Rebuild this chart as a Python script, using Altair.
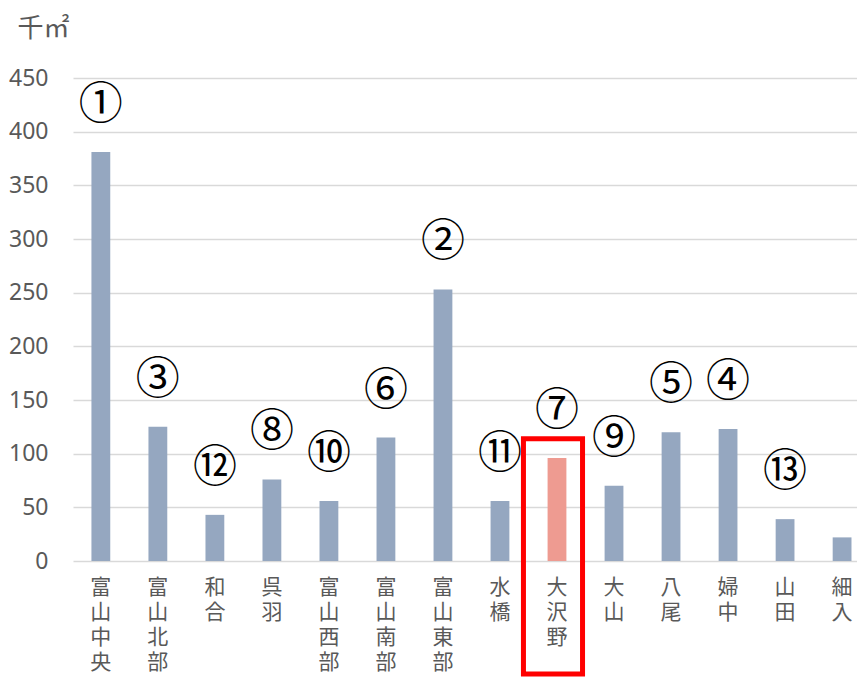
import altair as alt
import pandas as pd

categories = ["富山中央", "富山北部", "和合", "呉羽", "富山西部", "富山南部", "富山東部",
              "水橋", "大沢野", "大山", "八尾", "婦中", "山田", "細入"]
values = [381, 125, 43, 76, 56, 115, 253, 56, 96, 70, 120, 123, 39, 22]
ranks = ["①", "③", "⑫", "⑧", "⑩", "⑥", "②", "⑪", "⑦", "⑨", "⑤", "④", "⑬", ""]
highlight = "大沢野"
y_ticks = [0, 50, 100, 150, 200, 250, 300, 350, 400, 450]

df = pd.DataFrame({
    "area": categories,
    "value": values,
    "rank": ranks,
    "hl": [c == highlight for c in categories],
})

x = alt.X(
    "area:N", sort=categories,
    scale=alt.Scale(paddingInner=0.67, paddingOuter=0.21, align=0.77),
    axis=alt.Axis(title=None, labelAngle=0, labelExpr="split(datum.label, '')",
                  labelFont="Noto Sans CJK JP", labelFontSize=21, labelLineHeight=25,
                  labelColor="#595959", labelBaseline="top", labelPadding=15,
                  ticks=False, domain=False),
)
y = alt.Y(
    "value:Q", scale=alt.Scale(domain=[0, 450]),
    axis=alt.Axis(values=y_ticks, title="千㎡", titleAngle=0, titleAlign="left",
                  titleBaseline="middle", titleX=-56, titleY=-50, titleFontSize=26,
                  titleFont="Noto Sans CJK JP", titleFontWeight="normal", titleColor="#595959",
                  labelFont="Noto Sans", labelFontSize=23, labelColor="#595959",
                  labelPadding=25, ticks=False, domain=False, grid=True,
                  gridColor="#D9D9D9", gridWidth=1.5),
)

base = alt.Chart(df)

bars = base.mark_bar().encode(
    x=x, y=y,
    color=alt.condition("datum.hl", alt.value("#EE9B91"), alt.value("#95A7C0")),
)

labels = base.mark_text(dy=-46, fontSize=44, font="Noto Sans CJK JP",
                        baseline="middle", color="black").encode(
    x=x, y=y, text="rank:N")

box = alt.Chart(df[df["hl"]]).mark_bar(
    fillOpacity=0, stroke="#FF0000", strokeWidth=5,
    width=alt.RelativeBandSize(3.14), xOffset=-4,
).encode(
    x=x,
    y=alt.datum(114),
    y2=alt.value(596),
)

chart = alt.layer(bars, labels, box).properties(
    width=784, height=483,
    padding={"left": 65, "top": 70, "right": 0, "bottom": 116},
    autosize=alt.AutoSizeParams(type="none"),
).configure_view(stroke=None)

chart.save("out.html", embed_options={"renderer": "svg", "actions": False})
